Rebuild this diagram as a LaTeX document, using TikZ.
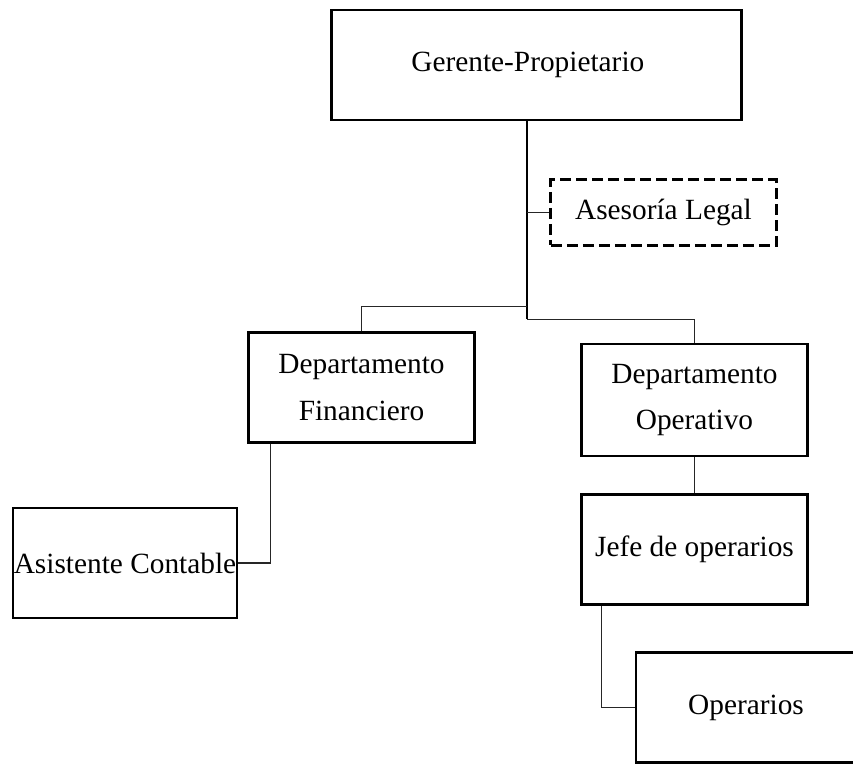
\documentclass[tikz,border=0pt]{standalone}
\usepackage{fontspec}
\setmainfont{Liberation Serif}
\usetikzlibrary{calc}

\begin{document}
\begin{tikzpicture}[
    x=0.75pt, y=-0.75pt,
    orgbox/.style={rectangle, draw=black, line width=2.2pt, fill=white, inner sep=0pt, align=center, minimum width=#1, font=\fontsize{22}{35}\selectfont},
    advbox/.style={orgbox=#1, dash pattern=on 8pt off 4pt},
    conn/.style={draw=black!85, line width=0.9pt},
    trunk/.style={draw=black, line width=1.3pt}
]
\useasboundingbox (0,0) rectangle (853,765);

% Top
\node[orgbox=307pt, minimum height=82.5pt] (gerente) at (536.5,65) {Gerente-Propietario\hspace*{13pt}};
\node[advbox=169pt, minimum height=49pt] (asesoria) at (663.5,212.5) {Asesor\'{\i}a Legal};

% Departments
\node[orgbox=169pt, minimum height=83pt] (depfin) at (361.5,387.5) {Departamento\\Financiero};
\node[orgbox=169pt, minimum height=84pt] (depop) at (694.5,400) {Departamento\\Operativo};

% Staff
\node[orgbox=168pt, minimum height=82.5pt] (asist) at (125,563) {Asistente Contable};
\node[orgbox=169pt, minimum height=83pt] (jefe) at (694.5,549.5) {Jefe de operarios};
\node[orgbox=165pt, minimum height=82pt] (operarios) at (746,707.5) {Operarios};

% Connectors
\coordinate (top) at ($(gerente.south west)!0.477!(gerente.south east)$);
\coordinate (jl) at ($(top)+(0,185)$);
\coordinate (jr) at ($(top)+(0,198)$);
\draw[trunk] (top) -- (jr);
\draw[conn] (top |- asesoria.west) -- (asesoria.west);
\draw[conn] (jl) -| (depfin.north);
\draw[conn] (jr) -| (depop.north);
\draw[conn] ($(depfin.south west)!0.1!(depfin.south east)$) |- (asist.east);
\draw[conn] (depop.south) -- (jefe.north);
\draw[conn] ($(jefe.south west)!0.093!(jefe.south east)$) |- (operarios.west);
\end{tikzpicture}
\end{document}
